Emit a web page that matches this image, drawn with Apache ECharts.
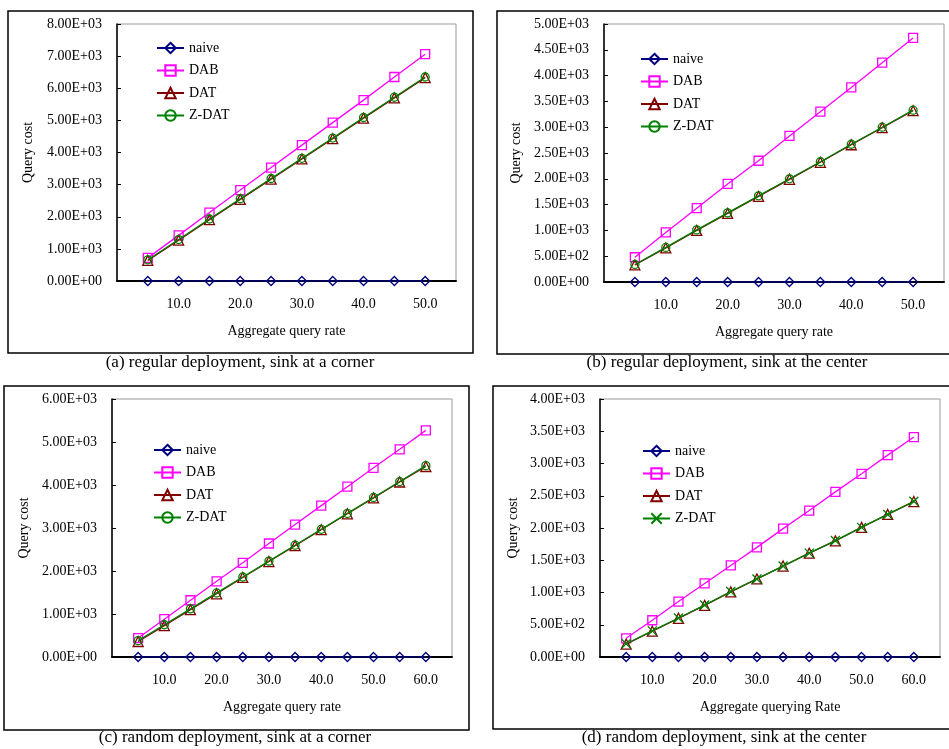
<!DOCTYPE html>
<html><head><meta charset="utf-8">
<script src="https://cdn.jsdelivr.net/npm/echarts@6/dist/echarts.min.js"></script>
<style>
html,body{margin:0;padding:0;background:#fff;}
.c{position:absolute;left:0;top:0;width:949px;height:749px;}
</style></head>
<body>
<div id="ca" class="c"></div><div id="cb" class="c"></div><div id="cc" class="c"></div><div id="cd" class="c"></div>
<script>
// ---- data ----
const seriesNames = ['naive', 'DAB', 'DAT', 'Z-DAT'];
const xRate10 = [5, 10, 15, 20, 25, 30, 35, 40, 45, 50];
const xRate12 = [5, 10, 15, 20, 25, 30, 35, 40, 45, 50, 55, 60];

const aNaive = [0, 0, 0, 0, 0, 0, 0, 0, 0, 0];
const aDAB   = [720, 1420, 2130, 2830, 3530, 4230, 4930, 5630, 6350, 7060];
const aDAT   = [640, 1270, 1910, 2540, 3170, 3800, 4430, 5070, 5700, 6330];
const aZDAT  = [660, 1290, 1930, 2560, 3190, 3820, 4450, 5090, 5720, 6350];

const bNaive = [0, 0, 0, 0, 0, 0, 0, 0, 0, 0];
const bDAB   = [480, 960, 1430, 1900, 2350, 2830, 3300, 3770, 4250, 4730];
const bDAT   = [330, 660, 1000, 1330, 1660, 1990, 2320, 2660, 2990, 3320];
const bZDAT  = [340, 670, 1010, 1340, 1670, 2000, 2330, 2670, 3000, 3330];

const cNaive = [0, 0, 0, 0, 0, 0, 0, 0, 0, 0, 0, 0];
const cDAB   = [440, 880, 1320, 1760, 2190, 2640, 3080, 3520, 3960, 4400, 4830, 5270];
const cDAT   = [360, 730, 1100, 1470, 1850, 2220, 2590, 2960, 3330, 3700, 4070, 4430];
const cZDAT  = [380, 750, 1120, 1490, 1860, 2230, 2600, 2970, 3340, 3710, 4080, 4450];

const dNaive = [0, 0, 0, 0, 0, 0, 0, 0, 0, 0, 0, 0];
const dDAB   = [290, 570, 860, 1140, 1420, 1700, 1990, 2270, 2560, 2840, 3130, 3410];
const dDAT   = [200, 400, 600, 800, 1010, 1210, 1410, 1610, 1800, 2010, 2210, 2410];
const dZDAT  = [205, 405, 605, 805, 1015, 1210, 1410, 1610, 1805, 2010, 2210, 2415];

const yMaxA = 8000, yStepA = 1000;
const yMaxB = 5000, yStepB = 500;
const yMaxC = 6000, yStepC = 1000;
const yMaxD = 4000, yStepD = 500;

const captionA = '(a) regular deployment, sink at a corner';
const captionB = '(b) regular deployment, sink at the center';
const captionC = '(c) random deployment, sink at a corner';
const captionD = '(d) random deployment, sink at the center';
const xTitleA = 'Aggregate query rate';
const xTitleD = 'Aggregate querying Rate';
const yTitle = 'Query cost';

// ---- styles ----
const FONT = "'Liberation Serif','Times New Roman',serif";
const colors = ['#000080', '#FF00FF', '#800000', '#008000'];
const CROSS = 'path://M0,0L10,10M10,0L0,10';
const symbolsStd = ['diamond', 'rect', 'triangle', 'circle'];
const symbolsD = ['diamond', 'rect', 'triangle', CROSS];
const symSizes = [9, 9, 10, 8];

function fmtE(v) {
  const s = Number(v).toExponential(2); // e.g. 5.00e+2
  const parts = s.split('e');
  const sign = parts[1][0] === '-' ? '-' : '+';
  const ex = parts[1].replace(/[+-]/, '');
  return parts[0] + 'E' + sign + ex.padStart(2, '0');
}

function makeOption(p) {
  const series = p.values.map((vals, i) => ({
    name: seriesNames[i],
    type: 'line',
    data: p.xs.map((x, j) => [x, vals[j]]),
    symbol: p.symbols[i],
    symbolSize: p.symbols[i] === CROSS ? 9 : symSizes[i],
    showAllSymbol: true,
    lineStyle: { color: colors[i], width: 1.3 },
    itemStyle: { color: 'rgba(255,255,255,0)', borderColor: colors[i], borderWidth: 1.3 },
    z: i === 0 ? 5 : 3 + i,
    animation: false
  }));
  return {
    animation: false,
    textStyle: { fontFamily: FONT, color: '#000' },
    title: {
      text: p.caption, left: p.capX, top: p.capY, textAlign: 'center', padding: 0,
      textStyle: { fontFamily: FONT, fontSize: 17, fontWeight: 'normal', color: '#000' }
    },
    graphic: [{
      type: 'rect', shape: { x: p.box[0], y: p.box[1], width: p.box[2], height: p.box[3] },
      style: { fill: 'none', stroke: '#000', lineWidth: 1.5 }, z: 0
    }],
    legend: {
      data: seriesNames, orient: 'vertical', left: p.legX, top: p.legY, padding: 0,
      itemWidth: 27, itemHeight: 13, itemGap: 8.5,
      textStyle: { fontFamily: FONT, fontSize: 14, color: '#000' }
    },
    grid: { left: p.grid[0], top: p.grid[1], width: p.grid[2], height: p.grid[3],
      show: true, borderColor: '#999', borderWidth: 1, backgroundColor: 'transparent' },
    xAxis: {
      type: 'value', min: 0, max: p.xMax, interval: 10,
      name: p.xTitle, nameLocation: 'middle', nameGap: 43,
      nameTextStyle: { fontFamily: FONT, fontSize: 14, color: '#000' },
      axisLine: { lineStyle: { color: '#000', width: 2 } },
      axisTick: { show: false },
      splitLine: { show: false },
      axisLabel: { fontFamily: FONT, fontSize: 14, color: '#000', margin: 16,
        showMinLabel: false, showMaxLabel: false,
        formatter: v => (v > 0 && v % 10 === 0) ? v.toFixed(1) : '' }
    },
    yAxis: {
      type: 'value', min: 0, max: p.yMax, interval: p.yStep,
      name: yTitle, nameLocation: 'middle', nameGap: p.yNameGap,
      nameTextStyle: { fontFamily: FONT, fontSize: 14, color: '#000' },
      axisLine: { show: true, lineStyle: { color: '#000', width: 1.5 } },
      axisTick: { show: true, inside: true, length: 4, lineStyle: { color: '#000', width: 1 } },
      splitLine: { show: false },
      axisLabel: { fontFamily: FONT, fontSize: 14, color: '#000', margin: 15, formatter: fmtE }
    },
    series: series
  };
}

const panels = [
  { id: 'ca', xs: xRate10, values: [aNaive, aDAB, aDAT, aZDAT], symbols: symbolsStd,
    xMax: 55, yMax: yMaxA, yStep: yStepA, grid: [117, 24, 339, 257], box: [8, 11, 465, 342],
    legX: 156, legY: 41, caption: captionA, capX: 240, capY: 354, xTitle: xTitleA, yNameGap: 82 },
  { id: 'cb', xs: xRate10, values: [bNaive, bDAB, bDAT, bZDAT], symbols: symbolsStd,
    xMax: 55, yMax: yMaxB, yStep: yStepB, grid: [604, 24, 340, 258], box: [497, 11, 460, 343],
    legX: 640, legY: 52, caption: captionB, capX: 727, capY: 354, xTitle: xTitleA, yNameGap: 81 },
  { id: 'cc', xs: xRate12, values: [cNaive, cDAB, cDAT, cZDAT], symbols: symbolsStd,
    xMax: 65, yMax: yMaxC, yStep: yStepC, grid: [112, 399, 340, 258], box: [4, 386, 465, 344],
    legX: 153, legY: 443, caption: captionC, capX: 235, capY: 729, xTitle: xTitleA, yNameGap: 81 },
  { id: 'cd', xs: xRate12, values: [dNaive, dDAB, dDAT, dZDAT], symbols: symbolsD,
    xMax: 65, yMax: yMaxD, yStep: yStepD, grid: [600, 399, 340, 258], box: [493, 386, 464, 343],
    legX: 642, legY: 444, caption: captionD, capX: 724, capY: 729, xTitle: xTitleD, yNameGap: 80 }
];

panels.forEach(p => {
  const chart = echarts.init(document.getElementById(p.id), null, { renderer: 'canvas' });
  chart.setOption(makeOption(p));
});
</script>
</body></html>
